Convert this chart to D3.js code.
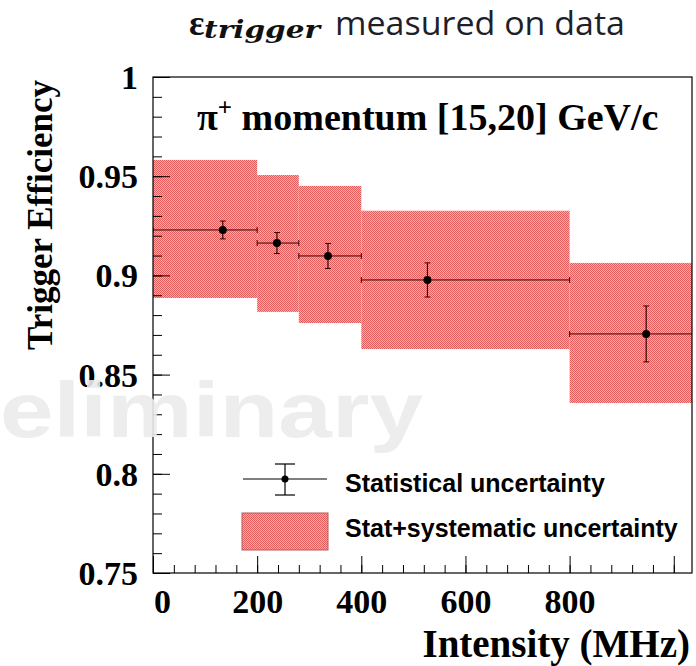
<!DOCTYPE html>
<html>
<head>
<meta charset="utf-8">
<script src="https://cdn.jsdelivr.net/npm/d3@7"></script>
<style>
  body { margin: 0; background: #fff; }
  text { font-family: "Liberation Serif", "Times New Roman", serif; font-weight: bold; }
</style>
</head>
<body>
<div id="trigger-eff-chart"></div>
<script>
const binEdges = [0, 200, 280, 400, 800, 1100];
const intensity = [134, 238, 336, 527, 947];
const efficiency = [0.9229, 0.9163, 0.9098, 0.8977, 0.8705];
const statErr = [0.0045, 0.0053, 0.0063, 0.0086, 0.0141];
const totalLow = [0.8886, 0.8816, 0.8760, 0.8629, 0.8357];
const totalHigh = [0.9582, 0.9506, 0.9451, 0.9326, 0.9063];

const xTicks = [0, 200, 400, 600, 800, 1000];
const xLabels = ["0", "200", "400", "600", "800", ""];
const yTicks = [0.75, 0.8, 0.85, 0.9, 0.95, 1];

const points = intensity.map((d, i) => ({
  x: d, lo: binEdges[i], hi: binEdges[i + 1],
  eff: efficiency[i], err: statErr[i],
  tLow: totalLow[i], tHigh: totalHigh[i]
}));

// Set up dimensions
const W = 696, H = 666;
const frame = { left: 153, right: 692, top: 77, bottom: 573 };

const svg = d3.select("#trigger-eff-chart")
  .append("svg")
  .attr("width", W)
  .attr("height", H);

const defs = svg.append("defs");

// ROOT style dotted red fill
const pat = defs.append("pattern")
  .attr("id", "redfill")
  .attr("width", 2).attr("height", 2)
  .attr("patternUnits", "userSpaceOnUse");
pat.append("rect").attr("width", 2).attr("height", 2).attr("fill", "#f8aeae");
pat.append("rect").attr("width", 1).attr("height", 1).attr("fill", "#e55c5c");
pat.append("rect").attr("x", 1).attr("y", 1).attr("width", 1).attr("height", 1).attr("fill", "#e55c5c");

defs.append("clipPath").attr("id", "plot-clip")
  .append("rect")
  .attr("x", frame.left).attr("y", frame.top)
  .attr("width", frame.right - frame.left)
  .attr("height", frame.bottom - frame.top);

// Create scales
const x = d3.scaleLinear().domain([0, 1035]).range([frame.left, frame.right]);
const y = d3.scaleLinear().domain([0.75, 1]).range([frame.bottom, frame.top]);

// Slide title
svg.append("text")
  .attr("x", 189)
  .attr("y", 35)
  .style("font-size", "36px")
  .attr("fill", "#111")
  .text("ε");
svg.append("text")
  .attr("x", 204)
  .attr("y", 38)
  .attr("textLength", 116)
  .attr("lengthAdjust", "spacingAndGlyphs")
  .style("font-family", "'DejaVu Serif', serif")
  .style("font-style", "italic")
  .style("font-size", "25px")
  .attr("fill", "#111")
  .text("trigger");
svg.append("text")
  .attr("x", 335)
  .attr("y", 35)
  .attr("textLength", 290)
  .attr("lengthAdjust", "spacingAndGlyphs")
  .style("font-family", "'Open Sans', sans-serif")
  .style("font-weight", "normal")
  .style("font-size", "32px")
  .attr("fill", "#1f1f2a")
  .text("measured on data");

const plot = svg.append("g").attr("clip-path", "url(#plot-clip)");

// Stat+syst boxes
plot.selectAll(".syst-box")
  .data(points)
  .enter()
  .append("rect")
  .attr("class", "syst-box")
  .attr("x", d => x(d.lo))
  .attr("width", d => x(d.hi) - x(d.lo))
  .attr("y", d => y(d.tHigh))
  .attr("height", d => y(d.tLow) - y(d.tHigh))
  .attr("fill", "url(#redfill)");

// Statistical error bars
const errColor = "#2a0606";
plot.selectAll(".xerr")
  .data(points)
  .enter()
  .append("line")
  .attr("x1", d => x(d.lo)).attr("x2", d => x(d.hi))
  .attr("y1", d => y(d.eff)).attr("y2", d => y(d.eff))
  .attr("stroke", errColor).attr("stroke-width", 1);

plot.selectAll(".xcap")
  .data(points.flatMap(d => [{ xv: d.lo, eff: d.eff }, { xv: d.hi, eff: d.eff }]))
  .enter()
  .append("line")
  .attr("x1", d => x(d.xv)).attr("x2", d => x(d.xv))
  .attr("y1", d => y(d.eff) - 3).attr("y2", d => y(d.eff) + 3)
  .attr("stroke", errColor).attr("stroke-width", 1);

plot.selectAll(".yerr")
  .data(points)
  .enter()
  .append("line")
  .attr("x1", d => x(d.x)).attr("x2", d => x(d.x))
  .attr("y1", d => y(d.eff + d.err)).attr("y2", d => y(d.eff - d.err))
  .attr("stroke", errColor).attr("stroke-width", 1.2);

plot.selectAll(".ycap")
  .data(points.flatMap(d => [{ xv: d.x, v: d.eff + d.err }, { xv: d.x, v: d.eff - d.err }]))
  .enter()
  .append("line")
  .attr("x1", d => x(d.xv) - 3).attr("x2", d => x(d.xv) + 3)
  .attr("y1", d => y(d.v)).attr("y2", d => y(d.v))
  .attr("stroke", errColor).attr("stroke-width", 1);

plot.selectAll(".pt")
  .data(points)
  .enter()
  .append("circle")
  .attr("cx", d => x(d.x))
  .attr("cy", d => y(d.eff))
  .attr("r", 4)
  .attr("fill", "#000");

// Axes (ticks inside the frame, ROOT style)
const yMajor = svg.append("g")
  .attr("transform", `translate(${frame.left},0)`)
  .call(d3.axisLeft(y).tickValues(yTicks).tickSize(-17).tickPadding(15)
    .tickFormat(d => String(+d.toFixed(2))));
yMajor.select(".domain").remove();
yMajor.selectAll("text")
  .style("font-size", "34px")
  .attr("dy", "0.34em")
  .attr("fill", "#000");

const yMinor = svg.append("g")
  .attr("transform", `translate(${frame.left},0)`)
  .call(d3.axisLeft(y).ticks(25).tickSize(-9).tickFormat(""));
yMinor.select(".domain").remove();

const xMajor = svg.append("g")
  .attr("transform", `translate(0,${frame.bottom})`)
  .call(d3.axisBottom(x).tickValues(xTicks).tickSize(-17).tickPadding(16)
    .tickFormat((d, i) => xLabels[i]));
xMajor.select(".domain").remove();
xMajor.selectAll("text")
  .style("font-size", "34px")
  .attr("fill", "#000")
  .attr("dx", (d, i) => (i === 0 ? 9 : 0));

const xMinor = svg.append("g")
  .attr("transform", `translate(0,${frame.bottom})`)
  .call(d3.axisBottom(x).tickValues(d3.range(0, 1035, 40)).tickSize(-8).tickFormat(""));
xMinor.select(".domain").remove();

svg.selectAll(".tick line").attr("stroke", "#000");

// Frame
svg.append("rect")
  .attr("x", frame.left).attr("y", frame.top)
  .attr("width", frame.right - frame.left)
  .attr("height", frame.bottom - frame.top)
  .attr("fill", "none")
  .attr("stroke", "#000")
  .attr("stroke-width", 1.2);

// Axis titles
svg.append("text")
  .attr("transform", "rotate(-90)")
  .attr("x", -215)
  .attr("y", 52)
  .attr("text-anchor", "middle")
  .style("font-size", "35px")
  .text("Trigger Efficiency");

svg.append("text")
  .attr("x", 690)
  .attr("y", 657)
  .attr("text-anchor", "end")
  .style("font-size", "39px")
  .text("Intensity (MHz)");

// Momentum range label
const mom = svg.append("text")
  .attr("x", 197)
  .attr("y", 130)
  .style("font-size", "38px");
mom.append("tspan").text("π");
mom.append("tspan").attr("dy", -14).style("font-size", "25px").text("+");
mom.append("tspan").attr("dy", 14).text(" momentum [15,20] GeV/c");

// Add legend
const legend = svg.append("g")
  .attr("class", "legend")
  .style("font-family", "'Liberation Sans', Arial, sans-serif");

const lx = 285, ly = 479;
legend.append("line")
  .attr("x1", lx - 42).attr("x2", lx + 42)
  .attr("y1", ly).attr("y2", ly)
  .attr("stroke", "#000").attr("stroke-width", 1.2);
legend.append("line")
  .attr("x1", lx).attr("x2", lx)
  .attr("y1", ly - 15).attr("y2", ly + 16)
  .attr("stroke", "#000").attr("stroke-width", 1.2);
[ly - 15, ly + 16].forEach(v => {
  legend.append("line")
    .attr("x1", lx - 10).attr("x2", lx + 10)
    .attr("y1", v).attr("y2", v)
    .attr("stroke", "#000").attr("stroke-width", 1.2);
});
legend.append("circle").attr("cx", lx).attr("cy", ly).attr("r", 3.5).attr("fill", "#000");

legend.append("text")
  .attr("x", 345).attr("y", 492)
  .style("font-family", "'Liberation Sans', Arial, sans-serif")
  .style("font-size", "25px")
  .text("Statistical uncertainty");

legend.append("rect")
  .attr("x", 242).attr("y", 513)
  .attr("width", 86).attr("height", 37)
  .attr("fill", "url(#redfill)")
  .attr("stroke", "#b45a5a")
  .attr("stroke-width", 1);

legend.append("text")
  .attr("x", 345).attr("y", 537)
  .style("font-family", "'Liberation Sans', Arial, sans-serif")
  .style("font-size", "25px")
  .text("Stat+systematic uncertainty");

// Faint "Preliminary" watermark, cut by the slide edge
svg.append("text")
  .attr("x", 0)
  .attr("y", 437)
  .attr("textLength", 423)
  .attr("lengthAdjust", "spacingAndGlyphs")
  .style("font-family", "'Liberation Sans', Arial, sans-serif")
  .style("font-size", "77px")
  .attr("fill", "#ebebeb")
  .attr("fill-opacity", 0.9)
  .text("eliminary");
</script>
</body>
</html>
